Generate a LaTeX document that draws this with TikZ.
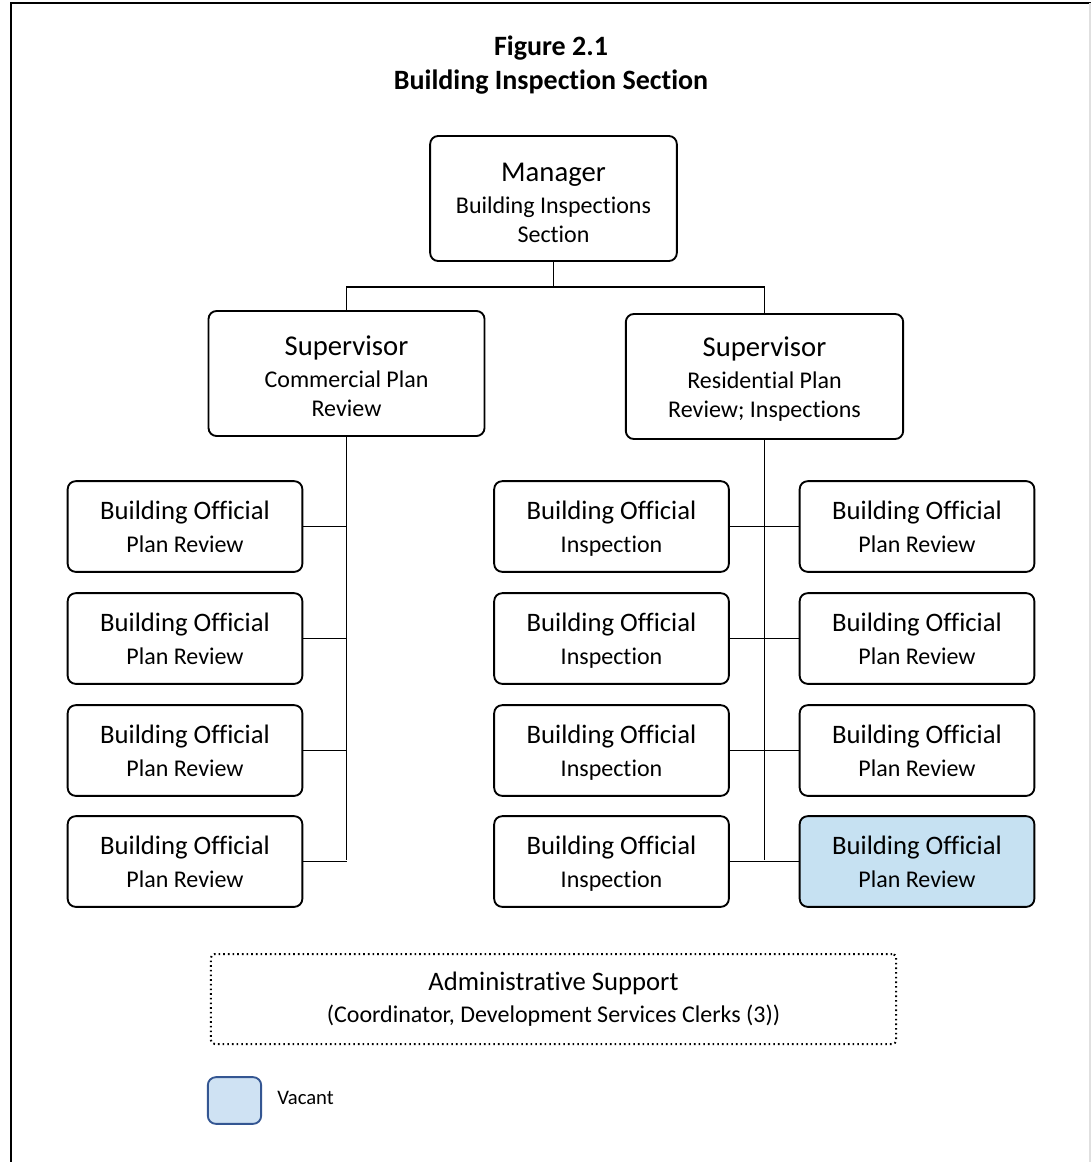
\documentclass[tikz,border=0pt]{standalone}
\usepackage{fontspec}
\setmainfont{Carlito}[Ligatures={NoCommon}]
\definecolor{vacfill}{RGB}{198,225,242}
\definecolor{legfill}{RGB}{207,226,243}
\definecolor{legdraw}{RGB}{52,86,146}
\tikzset{
  orgbox/.style={draw, rounded corners=6pt, line width=1.4pt, align=center, inner sep=0pt},
  supbox/.style={orgbox, minimum height=93.75pt, font=\fontsize{18}{22}\selectfont},
  offbox/.style={orgbox, minimum width=176pt, minimum height=68pt, font=\fontsize{18}{24.5}\selectfont},
  link/.style={line width=1pt},
}
\newcommand\topline[2]{{\fontsize{21.5}{25}\selectfont\rule{0pt}{#1}#2}}
\newcommand\offline[1]{{\fontsize{20}{24}\selectfont #1}}
\newcommand\nodepth[1]{\raisebox{0pt}[\height][0pt]{#1}}
\begin{document}
\begin{tikzpicture}[x=0.75pt,y=-0.75pt]
\useasboundingbox (0,0) rectangle (1091,1162);
% frame
\draw[line width=1.5pt] (11,1162) -- (11,3.5) -- (1091,3.5);
\draw[line width=1pt, black!12] (1090,3.5) -- (1090,1162);
% title
\node[align=center, font=\bfseries\fontsize{21}{25.5}\selectfont] (title) at (551,65) {Figure 2.1\\Building Inspection Section};
% manager and supervisors
\node[supbox, minimum width=185pt] (mgr) at (553.5,198.5) {\topline{20pt}{Manager}\\[2pt]Building Inspections\\Section};
\node[supbox, minimum width=207pt] (supL) at (346.5,373.5) {\topline{19pt}{Supervisor}\\[2pt]Commercial Plan\\Review};
\node[supbox, minimum width=208pt] (supR) at (764.5,376.5) {\topline{19pt}{Supervisor}\\[2pt]Residential Plan\\Review; Inspections};
% left column
\node[offbox] (l1) at (185,526.5) {\offline{Building Official}\\Plan Review};
\node[offbox] (l2) at (185,638.5) {\offline{Building Official}\\Plan Review};
\node[offbox] (l3) at (185,750.5) {\offline{Building Official}\\Plan Review};
\node[offbox] (l4) at (185,861.5) {\offline{Building Official}\\Plan Review};
% middle column
\node[offbox] (m1) at (611.5,526.5) {\offline{Building Official}\\\nodepth{Inspection}};
\node[offbox] (m2) at (611.5,638.5) {\offline{Building Official}\\\nodepth{Inspection}};
\node[offbox] (m3) at (611.5,750.5) {\offline{Building Official}\\\nodepth{Inspection}};
\node[offbox] (m4) at (611.5,861.5) {\offline{Building Official}\\\nodepth{Inspection}};
% right column
\node[offbox] (r1) at (917,526.5) {\offline{Building Official}\\Plan Review};
\node[offbox] (r2) at (917,638.5) {\offline{Building Official}\\Plan Review};
\node[offbox] (r3) at (917,750.5) {\offline{Building Official}\\Plan Review};
\node[offbox, fill=vacfill] (r4) at (917,861.5) {\offline{Building Official}\\Plan Review};
% admin support
\node[draw, line width=1.5pt, dash pattern=on 1.2pt off 2.3pt, rounded corners=3pt, align=center,
      minimum width=514pt, minimum height=67.5pt, inner sep=0pt, font=\fontsize{18}{24}\selectfont] (admin) at (553.5,999)
  {{\fontsize{20}{24}\selectfont Administrative Support}\\(Coordinator, Development Services Clerks (3))};
% legend
\node[draw=legdraw, fill=legfill, line width=1.4pt, rounded corners=6pt, minimum width=40pt, minimum height=35pt, inner sep=0pt] (leg) at (234.5,1100.5) {};
\node[anchor=west, font=\fontsize{15.5}{18}\selectfont, inner sep=0pt] (legtxt) at (277,1098) {Vacant};
% connectors
\coordinate (j) at (553.5,287);
\coordinate (lend) at (346.5,860);
\coordinate (rend) at (764.5,860);
\draw[link] (mgr.south) -- (j);
\draw[link] (supL.north) |- (j) -| (supR.north);
\draw[link] (supL.south) -- (lend);
\draw[link] (supR.south) -- (rend);
\draw[link] (l1.east) -- (l1.east -| lend);
\draw[link] (l2.east) -- (l2.east -| lend);
\draw[link] (l3.east) -- (l3.east -| lend);
\draw[link] (l4.east) -- (l4.east -| lend);
\draw[link] (m1.east) -- (r1.west);
\draw[link] (m2.east) -- (r2.west);
\draw[link] (m3.east) -- (r3.west);
\draw[link] (m4.east) -- (r4.west);
\end{tikzpicture}
\end{document}
